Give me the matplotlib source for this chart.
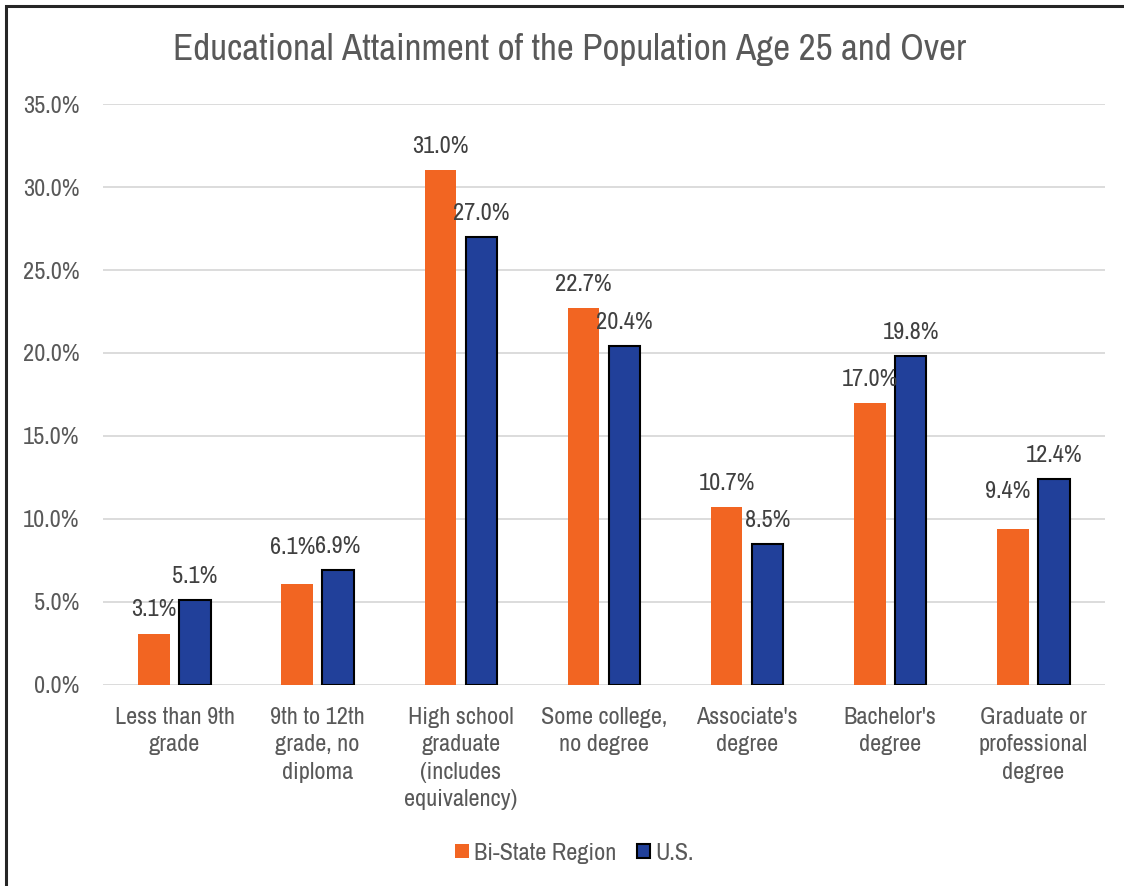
import matplotlib
matplotlib.use("Agg")
import matplotlib.pyplot as plt
from matplotlib.patches import Patch, Rectangle
import numpy as np

# ── Data ──────────────────────────────────────────────────────────────────────
categories = [
    "Less than 9th\ngrade",
    "9th to 12th\ngrade, no\ndiploma",
    "High school\ngraduate\n(includes\nequivalency)",
    "Some college,\nno degree",
    "Associate's\ndegree",
    "Bachelor's\ndegree",
    "Graduate or\nprofessional\ndegree",
]
bi_state = [3.1, 6.1, 31.0, 22.7, 10.7, 17.0, 9.4]
us = [5.1, 6.9, 27.0, 20.4, 8.5, 19.8, 12.4]
y_ticks = [0, 5, 10, 15, 20, 25, 30, 35]

# ── Styling ───────────────────────────────────────────────────────────────────
ORANGE = "#F26522"
BLUE = "#21409A"
GRID = "#D9D9D9"
TEXT = "#595959"
LABEL = "#404040"
FS = 17.5
FONT = ["Archivo Narrow", "Liberation Sans Narrow", "Liberation Sans", "DejaVu Sans"]
plt.rcParams["font.family"] = FONT

# Excel-style nudges for the orange labels that dodge their neighbours (pt)
orange_nudge = [(0, 0), (-3, 9), (0, 0), (0, 0), (0, 0), (0, 0), (-4, 10)]

fig = plt.figure(figsize=(11.24, 8.86), dpi=100)
fig.patch.set_facecolor("white")
ax = fig.add_axes([0.0916, 0.2269, 0.8915, 0.6557])

x = np.arange(len(categories))
w = 0.22
off = 0.143
ax.bar(x - off, bi_state, w, color=ORANGE, linewidth=0, zorder=3,
       label="Bi-State Region")
ax.bar(x + off, us, w, color=BLUE, edgecolor="black", linewidth=1.5,
       zorder=3, label="U.S.")

for i, (xi, v) in enumerate(zip(x - off, bi_state)):
    dx, dy = orange_nudge[i]
    ax.annotate(f"{v:.1f}%", xy=(xi, v), xytext=(dx, 17 + dy),
                textcoords="offset points", ha="center", va="center",
                fontsize=FS, color=LABEL)
for xi, v in zip(x + off, us):
    ax.annotate(f"{v:.1f}%", xy=(xi, v), xytext=(0, 17),
                textcoords="offset points", ha="center", va="center",
                fontsize=FS, color=LABEL)

ax.set_xlim(-0.5, len(categories) - 0.5)
ax.set_ylim(0, 35)
ax.set_yticks(y_ticks)
ax.set_yticklabels([f"{t:.1f}%" for t in y_ticks])
ax.set_xticks(x)
ax.set_xticklabels(categories, linespacing=1.37)
ax.tick_params(axis="y", length=0, pad=17, labelsize=FS, colors=TEXT)
ax.tick_params(axis="x", length=0, pad=16, labelsize=FS, colors=TEXT)
ax.grid(True, axis="y", color=GRID, linewidth=1.3, zorder=0)
for s in ax.spines.values():
    s.set_visible(False)

fig.text(0.507, 0.9436, "Educational Attainment of the Population Age 25 and Over",
         ha="center", va="center", fontsize=26.7, color=TEXT)

handles = [Patch(facecolor=ORANGE, edgecolor="none", label="Bi-State Region"),
           Patch(facecolor=BLUE, edgecolor="black", linewidth=1.5, label="U.S.")]
leg = fig.legend(handles=handles, loc="center", bbox_to_anchor=(0.511, 0.037),
                 ncol=2, frameon=False, fontsize=FS, handlelength=0.55,
                 handleheight=0.55, handletextpad=0.2, columnspacing=0.85)
for t in leg.get_texts():
    t.set_color(TEXT)

# chart frame (left/top edges visible, rest cropped off)
fig.patches.append(Rectangle((6 / 1124, -0.1), 1.2, 1.1 - 6 / 886,
                             transform=fig.transFigure, fill=False,
                             edgecolor="#262626", linewidth=2.2))

fig.savefig("out.png", dpi=100, facecolor="white")
